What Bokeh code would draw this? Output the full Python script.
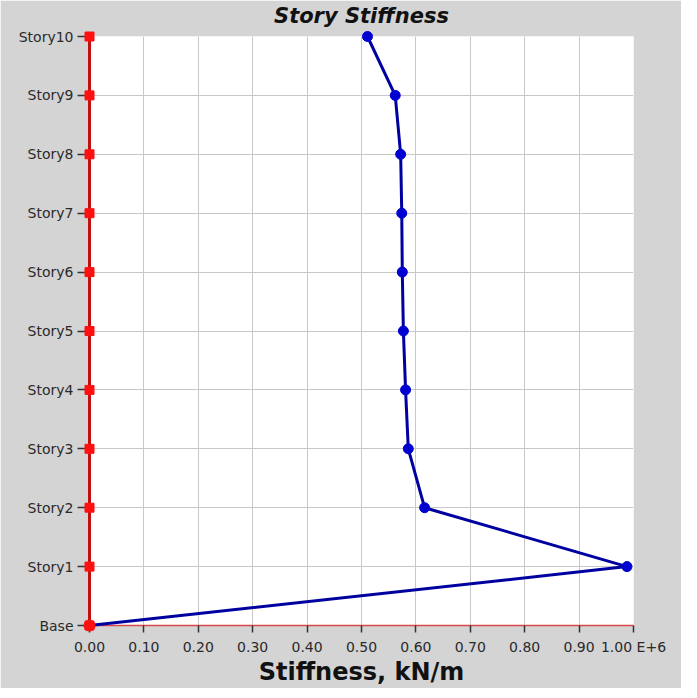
from bokeh.plotting import figure
from bokeh.embed import file_html
from bokeh.resources import INLINE
from bokeh.models import Range1d, FixedTicker, ColumnDataSource
from bokeh.core.properties import value

stories = ["Base", "Story1", "Story2", "Story3", "Story4", "Story5",
           "Story6", "Story7", "Story8", "Story9", "Story10"]
stiffness = [0.0, 0.988, 0.616, 0.586, 0.581, 0.577, 0.575, 0.574, 0.572, 0.562, 0.511]
x_ticks = [0.0, 0.1, 0.2, 0.3, 0.4, 0.5, 0.6, 0.7, 0.8, 0.9, 1.0]
x_tick_labels = ["0.00", "0.10", "0.20", "0.30", "0.40", "0.50", "0.60",
                 "0.70", "0.80", "0.90", "1.00 E+6"]
title_text = "Story Stiffness"

levels = list(range(len(stories)))
FONT = "DejaVu Sans"
BG = "#d4d4d4"

p = figure(width=681, height=688, output_backend="svg", toolbar_location=None,
           x_range=Range1d(0, 1.0), y_range=Range1d(0, 10),
           min_border_left=89, min_border_right=48, min_border_top=36,
           min_border_bottom=62)
p.background_fill_color = "white"
p.border_fill_color = BG
p.outline_line_color = None

# title, centred over the plot area, placed above its top edge
p.text(x=[(p.x_range.start + p.x_range.end) / 2],
       y=[p.y_range.end], text=[title_text], y_offset=-21,
       text_align="center", text_baseline="middle",
       text_font=value(FONT), text_font_size="21px",
       text_font_style="bold italic", text_color="#111111", level="overlay")

# grid
p.xgrid.ticker = FixedTicker(ticks=x_ticks)
p.ygrid.ticker = FixedTicker(ticks=levels)
p.xgrid.grid_line_color = "#c8c8c8"
p.ygrid.grid_line_color = "#c8c8c8"

# x axis
xa = p.xaxis[0]
xa.ticker = FixedTicker(ticks=x_ticks)
xa.major_label_overrides = {t: l for t, l in zip(x_ticks, x_tick_labels)}
xa.axis_line_color = "#d84848"
xa.axis_line_width = 1.5
xa.major_tick_line_color = "#333333"
xa.major_tick_line_width = 1.5
xa.major_tick_in = 0
xa.major_tick_out = 7
xa.minor_tick_line_color = None
xa.major_label_text_font = FONT
xa.major_label_text_font_size = "14px"
xa.major_label_text_color = "#2a2a2a"
xa.major_label_standoff = 6
xa.axis_label = "Stiffness, kN/m"
xa.axis_label_text_font = FONT
xa.axis_label_text_font_size = "24px"
xa.axis_label_text_font_style = "bold"
xa.axis_label_text_color = "#111111"
xa.axis_label_standoff = 0

# y axis
ya = p.yaxis[0]
ya.ticker = FixedTicker(ticks=levels)
ya.major_label_overrides = {i: s for i, s in zip(levels, stories)}
ya.axis_line_color = "#c01010"
ya.axis_line_width = 3
ya.major_tick_line_color = "#333333"
ya.major_tick_line_width = 1.5
ya.major_tick_in = 0
ya.major_tick_out = 12
ya.minor_tick_line_color = None
ya.major_label_text_font = FONT
ya.major_label_text_font_size = "14px"
ya.major_label_text_color = "#2a2a2a"
ya.major_label_standoff = 4

# red squares on the story axis
p.scatter(x=[0.0] * len(levels), y=levels, marker="square", size=9,
          fill_color="#ff1010", line_color="#ff1010", level="overlay")

src = ColumnDataSource(data=dict(x=stiffness, y=levels))
p.line(x="x", y="y", source=src, line_color="#0000a0", line_width=3, level="overlay")
p.scatter(x=stiffness[1:], y=levels[1:], marker="circle", size=10,
          fill_color="#0000d0", line_color="#0000d0", level="overlay")
p.scatter(x=[stiffness[0]], y=[levels[0]], marker="circle", size=11,
          fill_color="#ff1010", line_color="#ff1010", level="overlay")

open("out.html", "w").write(file_html(p, INLINE))
